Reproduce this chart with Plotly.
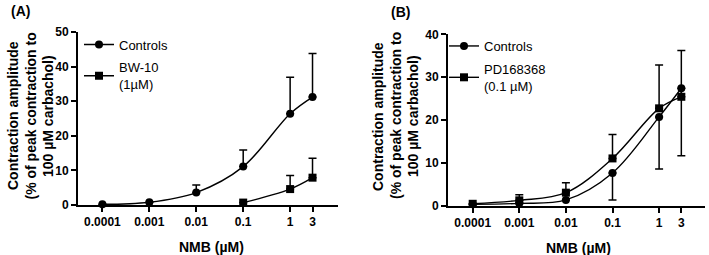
import plotly.graph_objects as go

W, H = 709, 255

# ---- data ----
nmb = [0.0001, 0.001, 0.01, 0.1, 1, 3]
tick_labels = ["0.0001", "0.001", "0.01", "0.1", "1", "3"]

# Panel A
a_ctrl = [0.2, 0.8, 3.6, 11.1, 26.4, 31.2]
a_ctrl_err = [0.0, 0.0, 2.2, 4.8, 10.5, 12.6]
a_bw_x = [0.1, 1, 3]
a_bw = [0.7, 4.6, 7.9]
a_bw_err = [0.0, 3.9, 5.6]

# Panel B
b_ctrl = [0.3, 0.5, 1.3, 7.6, 20.7, 27.4]
b_ctrl_errminus = [0.0, 0.0, 0.0, 6.3, 12.2, 15.8]
b_pd = [0.4, 1.2, 3.0, 11.0, 22.7, 25.4]
b_pd_err = [0.0, 1.3, 2.3, 5.6, 10.1, 10.8]

FONT = "Liberation Sans, Arial, sans-serif"
zeros = lambda n: [0.0] * n


def px_x(p):
    return p / W


def px_y(p):
    return 1 - p / H


fig = go.Figure()

common_line = dict(color="black", width=1.4, shape="spline")

# Panel A traces
fig.add_trace(go.Scatter(
    x=nmb, y=a_ctrl, mode="lines+markers", name="Controls",
    line=common_line, marker=dict(symbol="circle", size=8, color="black"),
    error_y=dict(type="data", symmetric=False, array=a_ctrl_err,
                 arrayminus=zeros(len(nmb)), color="black", thickness=1.5, width=4),
    xaxis="x", yaxis="y", legend="legend", legendgroup="a1", cliponaxis=False))
fig.add_trace(go.Scatter(
    x=a_bw_x, y=a_bw, mode="lines+markers", name="BW-10<br>(1µM)",
    line=common_line, marker=dict(symbol="square", size=8, color="black"),
    error_y=dict(type="data", symmetric=False, array=a_bw_err,
                 arrayminus=zeros(len(a_bw_x)), color="black", thickness=1.5, width=4),
    xaxis="x", yaxis="y", legend="legend", legendgroup="a2", cliponaxis=False))

# Panel B traces
fig.add_trace(go.Scatter(
    x=nmb, y=b_ctrl, mode="lines+markers", name="Controls",
    line=common_line, marker=dict(symbol="circle", size=8, color="black"),
    error_y=dict(type="data", symmetric=False, array=zeros(len(nmb)),
                 arrayminus=b_ctrl_errminus, color="black", thickness=1.5, width=4),
    xaxis="x2", yaxis="y2", legend="legend2", legendgroup="b1", cliponaxis=False))
fig.add_trace(go.Scatter(
    x=nmb, y=b_pd, mode="lines+markers", name="PD168368<br>(0.1 µM)",
    line=common_line, marker=dict(symbol="square", size=8, color="black"),
    error_y=dict(type="data", symmetric=False, array=b_pd_err,
                 arrayminus=zeros(len(nmb)), color="black", thickness=1.5, width=4),
    xaxis="x2", yaxis="y2", legend="legend2", legendgroup="b2", cliponaxis=False))

tickfont = dict(family=FONT, size=12, color="black", weight="bold")

xcommon = dict(type="log", tickvals=nmb, ticktext=tick_labels, ticks="outside",
               ticklen=5, tickwidth=2, tickcolor="black", showline=True,
               linecolor="black", linewidth=2, showgrid=False, zeroline=False,
               tickfont=tickfont)
ycommon = dict(ticks="outside", ticklen=5, tickwidth=2, tickcolor="black",
               showline=True, linecolor="black", linewidth=2, showgrid=False,
               zeroline=False, tickfont=tickfont, dtick=10)

legend_common = dict(font=dict(family=FONT, size=13, color="black"),
                     bgcolor="rgba(0,0,0,0)", itemwidth=30, xanchor="left",
                     yanchor="top", traceorder="grouped", tracegroupgap=3,
                     itemclick=False)

fig.update_layout(
    width=W, height=H, margin=dict(l=0, r=0, t=0, b=0, autoexpand=False),
    paper_bgcolor="white", plot_bgcolor="white", showlegend=True,
    font=dict(family=FONT, color="black"),
    xaxis=dict(domain=[px_x(78), px_x(338)], range=[-4.52, 1.02], anchor="y", **xcommon),
    yaxis=dict(domain=[px_y(205), px_y(32)], range=[0, 50], anchor="x", **ycommon),
    xaxis2=dict(domain=[px_x(448), px_x(705)], range=[-4.53, 0.985], anchor="y2", **xcommon),
    yaxis2=dict(domain=[px_y(205.5), px_y(34.3)], range=[0, 40], anchor="x2", **ycommon),
    legend=dict(x=px_x(79), y=px_y(29.5), **legend_common),
    legend2=dict(x=px_x(444), y=px_y(31), **legend_common),
)

ann = []
bold14 = dict(family=FONT, size=14, color="black", weight="bold")
base = dict(xref="paper", yref="paper", showarrow=False, font=bold14,
            xanchor="center", yanchor="middle")
ann.append(dict(text="(A)", x=px_x(20), y=px_y(11), **base))
ann.append(dict(text="(B)", x=px_x(400), y=px_y(12), **base))
ytitle = ["Contraction amplitude", "(% of peak contraction to", "100 µM carbachol)"]
for xc in ([13, 30.5, 48], [378, 396, 413]):
    for line, cx in zip(ytitle, xc):
        ann.append(dict(text=line, x=px_x(cx), y=px_y(116), textangle=-90, **base))
ann.append(dict(text="NMB (µM)", x=px_x(211), y=px_y(247), **base))
ann.append(dict(text="NMB (µM)", x=px_x(578), y=px_y(248), **base))
fig.update_layout(annotations=ann)

fig.write_html("out.html")
